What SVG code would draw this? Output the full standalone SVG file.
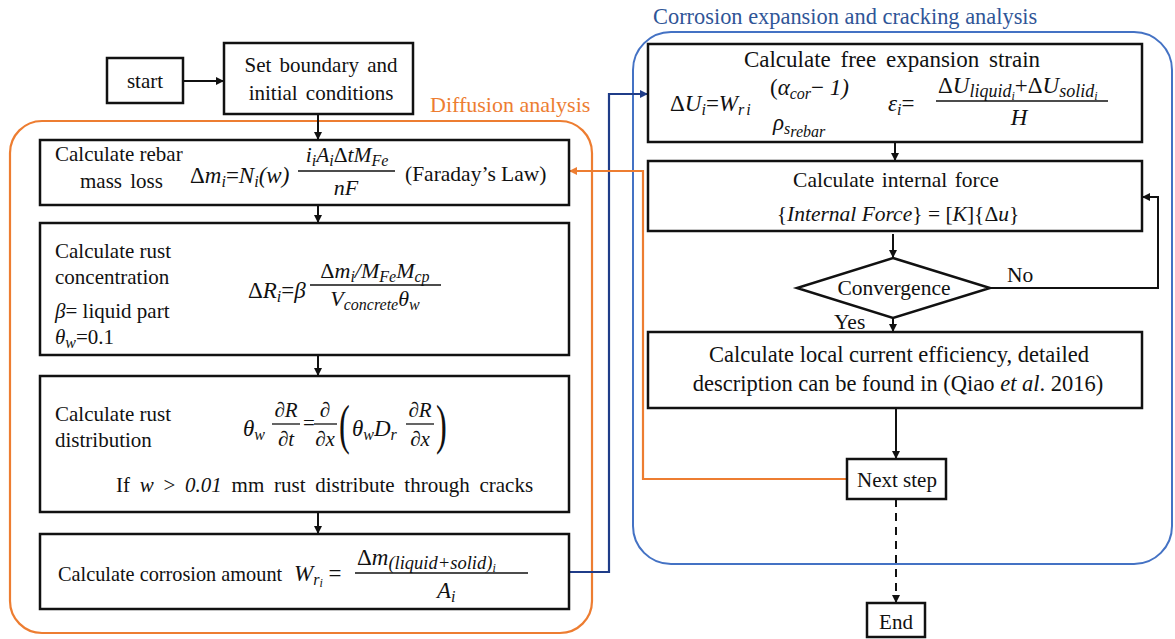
<svg xmlns="http://www.w3.org/2000/svg" width="1175" height="639" viewBox="0 0 1175 639">
<style>
.bg{fill:#fff}
.box{fill:#fff;stroke:#111;stroke-width:2.5}
.t{font-family:Liberation Serif, Times New Roman, Times, serif;font-size:21px;fill:#111}
.m{font-size:23px}
.mid{text-anchor:middle}
.i{font-style:italic}
.s{font-size:16px}
.ss{font-size:12px}
.bar{stroke:#111;stroke-width:1.3}
.con{fill:none;stroke:#111;stroke-width:2}
.org{fill:none;stroke:#ED7D31;stroke-width:2.2}
.navy{fill:none;stroke:#1F3C88;stroke-width:2.2}
.grp-orange{fill:none;stroke:#ED7D31;stroke-width:2.2}
.grp-blue{fill:none;stroke:#4472C4;stroke-width:2}
</style>
<defs>
<marker id="ab" viewBox="0 0 10 10" refX="10" refY="5" markerWidth="8" markerHeight="8" markerUnits="userSpaceOnUse" orient="auto"><path d="M0,0 L10,5 L0,10 z" fill="#111"/></marker>
<marker id="ao" viewBox="0 0 10 10" refX="10" refY="5" markerWidth="8" markerHeight="8" markerUnits="userSpaceOnUse" orient="auto"><path d="M0,0 L10,5 L0,10 z" fill="#ED7D31"/></marker>
<marker id="an" viewBox="0 0 10 10" refX="10" refY="5" markerWidth="8" markerHeight="8" markerUnits="userSpaceOnUse" orient="auto"><path d="M0,0 L10,5 L0,10 z" fill="#1F3C88"/></marker>
</defs>
<rect class="bg" x="0" y="0" width="1175" height="639"/>

<g id="group-diffusion">
<rect class="grp-orange" x="10" y="121" width="582" height="512" rx="32"/>
<text class="t" x="430" y="112" style="fill:#ED7D31;font-size:22px">Diffusion analysis</text>
</g>
<g id="group-corrosion">
<rect class="grp-blue" x="633" y="32" width="539" height="532" rx="38"/>
<text class="t" x="653" y="24" style="fill:#2F5597;font-size:22.4px">Corrosion expansion and cracking analysis</text>
</g>

<g id="connectors">
<path class="con" d="M183,81 H224" marker-end="url(#ab)"/>
<path class="con" d="M318,114 V140" marker-end="url(#ab)"/>
<path class="con" d="M318,205 V223" marker-end="url(#ab)"/>
<path class="con" d="M318,355 V376" marker-end="url(#ab)"/>
<path class="con" d="M318,512 V534" marker-end="url(#ab)"/>
<path class="navy" d="M569,572 H609 V94 H648" marker-end="url(#an)"/>
<path class="con" d="M895,142 V161" marker-end="url(#ab)"/>
<path class="con" d="M893,234 V258" marker-end="url(#ab)"/>
<path class="con" d="M990,288 H1158 V197 H1142" marker-end="url(#ab)"/>
<path class="con" d="M893,318 V332" marker-end="url(#ab)"/>
<path class="con" d="M896,408 V459" marker-end="url(#ab)"/>
<path class="org" d="M847,479 H643 V171 H569" marker-end="url(#ao)"/>
<path class="con" d="M896,499 V603" stroke-dasharray="8 6" marker-end="url(#ab)"/>
<text class="t" x="1007" y="282" style="font-size:21.5px">No</text>
<text class="t" x="834" y="329" style="font-size:21.5px">Yes</text>
</g>

<g id="start">
<rect class="box" x="107" y="58" width="76" height="45"/>
<text class="t mid" x="145" y="88">start</text>
</g>

<g id="set-boundary">
<rect class="box" x="224" y="43" width="189" height="71"/>
<text class="t mid" x="321" y="72" word-spacing="3">Set boundary and</text>
<text class="t mid" x="321" y="100" word-spacing="3">initial conditions</text>
</g>

<g id="rebar-mass-loss">
<rect class="box" x="40" y="140" width="529" height="65"/>
<text class="t" x="55" y="161">Calculate rebar</text>
<text class="t" x="80" y="188" word-spacing="3">mass loss</text>
<text class="t m" x="190" y="183">Δ<tspan class="i">m</tspan><tspan class="s i" dy="4">i</tspan><tspan dy="-4">=</tspan><tspan class="i">N</tspan><tspan class="s i" dy="4">i</tspan><tspan class="i" dy="-4">(w)</tspan></text>
<text class="t mid" x="347" y="162" style="font-size:21.5px"><tspan class="i">i</tspan><tspan class="s i" dy="4">i</tspan><tspan class="i" dy="-4">A</tspan><tspan class="s i" dy="4">i</tspan><tspan dy="-4">Δ</tspan><tspan class="i">tM</tspan><tspan class="s i" dy="4">Fe</tspan></text>
<line class="bar" x1="298" y1="171" x2="395" y2="171"/>
<text class="t mid i" x="346" y="195" style="font-size:22px">nF</text>
<text class="t" x="405" y="181" style="font-size:21.5px">(Faraday’s Law)</text>
</g>

<g id="rust-concentration">
<rect class="box" x="40" y="223" width="529" height="132"/>
<text class="t" x="55" y="258">Calculate rust</text>
<text class="t" x="55" y="284">concentration</text>
<text class="t" x="55" y="318"><tspan class="i">β</tspan>= liquid part</text>
<text class="t" x="55" y="344"><tspan class="i">θ</tspan><tspan class="s i" dy="4">w</tspan><tspan dy="-4">=0.1</tspan></text>
<text class="t m" x="248" y="298">Δ<tspan class="i">R</tspan><tspan class="s i" dy="4">i</tspan><tspan dy="-4">=</tspan><tspan class="i">β</tspan></text>
<text class="t mid" x="375" y="278" style="font-size:22px">Δ<tspan class="i">m</tspan><tspan class="s i" dy="4">i</tspan><tspan class="i" dy="-4">/M</tspan><tspan class="s i" dy="4">Fe</tspan><tspan class="i" dy="-4">M</tspan><tspan class="s i" dy="4">cp</tspan></text>
<line class="bar" x1="310" y1="285" x2="441" y2="285"/>
<text class="t mid" x="375" y="306" style="font-size:22px"><tspan class="i">V</tspan><tspan class="s i" dy="4">concrete</tspan><tspan class="i" dy="-4">θ</tspan><tspan class="s i" dy="4">w</tspan></text>
</g>

<g id="rust-distribution">
<rect class="box" x="40" y="376" width="529" height="136"/>
<text class="t" x="55" y="421">Calculate rust</text>
<text class="t" x="55" y="447">distribution</text>
<text class="t m" x="243" y="436"><tspan class="i">θ</tspan><tspan class="s i" dy="4">w</tspan></text>
<text class="t mid i" x="286" y="417">∂R</text>
<line class="bar" x1="272" y1="424" x2="300" y2="424"/>
<text class="t mid i" x="286" y="446">∂t</text>
<text class="t" x="303" y="430">=</text>
<text class="t mid i" x="325" y="417">∂</text>
<line class="bar" x1="314" y1="424" x2="337" y2="424"/>
<text class="t mid i" x="325" y="446">∂x</text>
<text class="t" transform="translate(339,443) scale(0.6,1)" style="font-size:54px">(</text>
<text class="t m" x="352" y="436"><tspan class="i">θ</tspan><tspan class="s i" dy="4">w</tspan><tspan class="i" dy="-4">D</tspan><tspan class="s i" dy="4">r</tspan></text>
<text class="t mid i" x="420" y="417">∂R</text>
<line class="bar" x1="406" y1="424" x2="434" y2="424"/>
<text class="t mid i" x="420" y="446">∂x</text>
<text class="t" transform="translate(436,443) scale(0.6,1)" style="font-size:54px">)</text>
<text class="t" x="116" y="492" word-spacing="4.5">If <tspan class="i">w</tspan> &gt; <tspan class="i">0.01</tspan> mm rust distribute through cracks</text>
</g>

<g id="corrosion-amount">
<rect class="box" x="40" y="534" width="529" height="75"/>
<text class="t" x="58" y="581" style="font-size:20.3px">Calculate corrosion amount</text>
<text class="t m" x="294" y="581"><tspan class="i">W</tspan><tspan class="s i" dy="4">r</tspan><tspan class="ss i" dy="2">i</tspan><tspan dy="-6"> =</tspan></text>
<text class="t m" x="357" y="565">Δ<tspan class="i">m</tspan><tspan class="i" style="font-size:18.5px" dy="4">(liquid+solid)</tspan><tspan class="ss i" dy="3">i</tspan></text>
<line class="bar" x1="355" y1="573" x2="528" y2="573"/>
<text class="t m" x="437" y="598"><tspan class="i">A</tspan><tspan class="s i" dy="4">i</tspan></text>
</g>

<g id="free-expansion-strain">
<rect class="box" x="648" y="44" width="494" height="98"/>
<text class="t mid" x="892" y="67" style="font-size:23px" word-spacing="4">Calculate free expansion strain</text>
<text class="t m" x="670" y="111">Δ<tspan class="i">U</tspan><tspan class="s i" dy="4">i</tspan><tspan dy="-4">=</tspan><tspan class="i">W</tspan><tspan class="s i" dy="4">r</tspan><tspan class="s i" dx="2">i</tspan></text>
<text class="t m" x="770" y="95">(<tspan class="i">α</tspan><tspan class="s i" dy="4">cor</tspan><tspan dy="-4">− </tspan><tspan class="i">1)</tspan></text>
<text class="t m" x="773" y="130"><tspan class="i">ρ</tspan><tspan class="s i" dy="4">s</tspan><tspan class="s i" dy="3">rebar</tspan></text>
<text class="t m" x="888" y="111"><tspan class="i">ε</tspan><tspan class="s i" dy="4">i</tspan><tspan dy="-4">=</tspan></text>
<text class="t m" x="938" y="93">Δ<tspan class="i">U</tspan><tspan class="i" style="font-size:18px" dy="4">liquid</tspan><tspan class="ss i" dy="3">i</tspan><tspan dy="-7">+Δ</tspan><tspan class="i">U</tspan><tspan class="i" style="font-size:18px" dy="4">solid</tspan><tspan class="ss i" dy="3">i</tspan></text>
<line class="bar" x1="936" y1="101" x2="1108" y2="101"/>
<text class="t m mid i" x="1019" y="125">H</text>
</g>

<g id="internal-force">
<rect class="box" x="648" y="161" width="494" height="70"/>
<text class="t mid" x="896" y="187" style="font-size:21.5px" word-spacing="2">Calculate internal force</text>
<text class="t mid" x="898" y="221" style="font-size:21.5px">{<tspan class="i">Internal Force</tspan>} = [<tspan class="i">K</tspan>]{Δ<tspan class="i">u</tspan>}</text>
</g>

<g id="convergence">
<polygon points="893,258 990,288 893,318 797,288" fill="#fff" stroke="#111" stroke-width="2.5"/>
<text class="t mid" x="894" y="295" style="font-size:21.5px">Convergence</text>
</g>

<g id="local-current-efficiency">
<rect class="box" x="648" y="332" width="494" height="76"/>
<text class="t mid" x="899" y="362" style="font-size:22.5px">Calculate local current efficiency, detailed</text>
<text class="t mid" x="898" y="391" style="font-size:22.5px">description can be found in (Qiao <tspan class="i">et al</tspan>. 2016)</text>
</g>

<g id="next-step">
<rect class="box" x="847" y="459" width="99" height="40"/>
<text class="t mid" x="897" y="487">Next step</text>
</g>

<g id="end">
<rect class="box" x="867" y="603" width="58" height="34"/>
<text class="t mid" x="896" y="629">End</text>
</g>
</svg>
